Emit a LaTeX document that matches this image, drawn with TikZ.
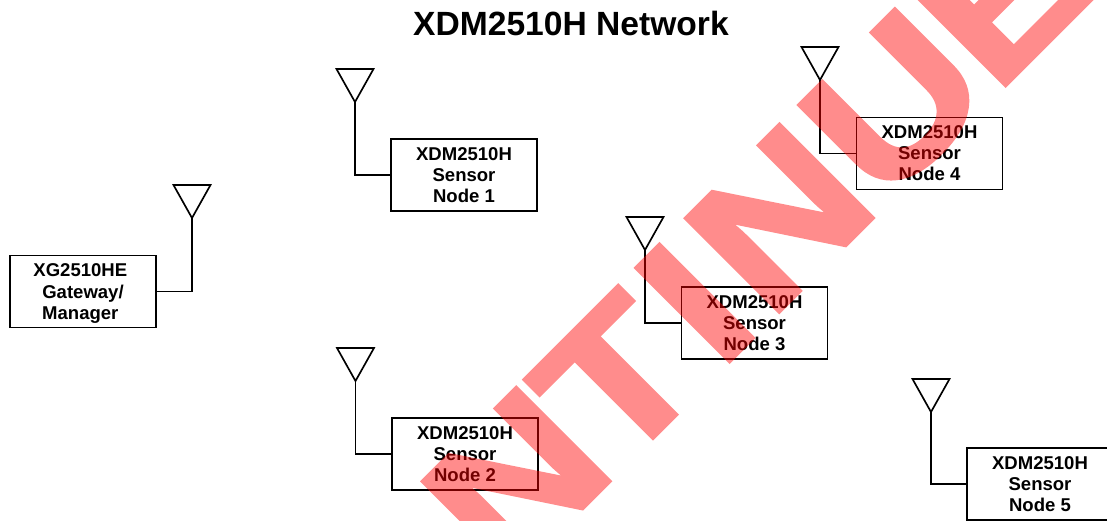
\documentclass[tikz,border=0pt]{standalone}
\usepackage{fontspec}
\setmainfont{Liberation Sans}
\newfontfamily\stampfont[FakeBold=2]{Liberation Sans Bold}
\usepackage{xcolor}
\usetikzlibrary{positioning,calc}

\tikzset{
    wire/.style={line width=1.25pt, line join=miter},
    devbox/.style={draw, wire, fill=white, minimum width=109.5pt, minimum height=54pt, inner sep=0pt,
        align=center, font=\fontsize{13.9}{15.75}\selectfont\bfseries},
    nettitle/.style={font=\fontsize{25.2}{30}\selectfont\bfseries},
    stamp/.style={text=red, font=\fontsize{144}{150}\stampfont, inner sep=0pt}
}

\begin{document}
\begin{tikzpicture}[x=0.75pt, y=-0.75pt]
    \useasboundingbox (0,0) rectangle (1107,521);
    \clip (0,0) rectangle (1107,521);

    % Title
    \node[nettitle, anchor=base] (title) at (571,36) {XDM2510H Network};

    % Boxes
    \node[devbox] (gateway) at (83,291.5) {\rule{0pt}{12.25pt}XG2510HE\hspace*{4pt}\\[0.75pt]Gateway/\hspace*{4pt}\\Manager\hspace*{4pt}};
    \node[devbox] (node1) at (464,175) {XDM2510H\\Sensor\\Node 1};
    \node[devbox] (node2) at (465,454) {XDM2510H\\Sensor\\Node 2};
    \node[devbox] (node3) at (754.5,323) {XDM2510H\\Sensor\\Node 3};
    \node[devbox] (node4) at (929.5,153.5) {XDM2510H\\Sensor\\Node 4};
    \node[devbox] (node5) at (1040,484) {XDM2510H\\Sensor\\Node 5};

    % Antennas
    \foreach \ant/\dev/\x/\y in {antg/gateway/192/218, ant1/node1/355/102, ant2/node2/355.5/381,
                                 ant3/node3/645/250, ant4/node4/820/80, ant5/node5/931/412} {
        \coordinate (\ant) at (\x,\y);
        \draw[wire] (\ant) -- ++(-18.5,-33) -- ++(37,0) -- cycle;
        \draw[wire] (\ant) |- (\dev);
    }

    % Watermark
    \begin{scope}[transparency group, opacity=0.45]
        \node[stamp, anchor=base, rotate=45, xscale=1.167] (mark) at (609.7,481.3)
            {DISCON\kern-3.6pt T\kern5.9pt I\kern5pt NU\kern-2.3pt ED};
    \end{scope}
\end{tikzpicture}
\end{document}
